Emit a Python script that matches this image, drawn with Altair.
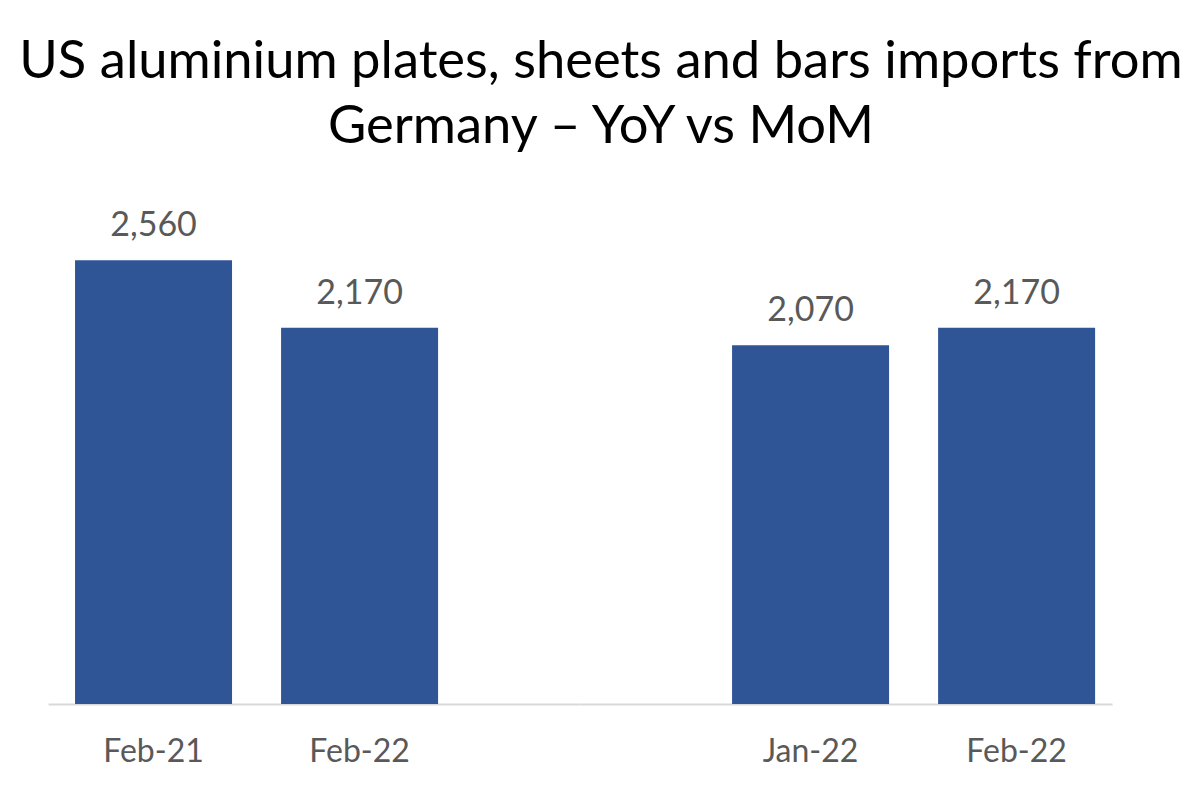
import altair as alt
import pandas as pd

yoy_periods = ["Feb-21", "Feb-22"]
yoy_values = [2560, 2170]
mom_periods = ["Jan-22", "Feb-22"]
mom_values = [2070, 2170]

title_lines = ["US aluminium plates, sheets and bars imports from", "Germany \u2013 YoY vs MoM"]

FONT = "Lato"
BAR_COLOR = "#2F5597"
TEXT_GRAY = "#595959"

yscale = alt.Scale(domain=[0, 3000], nice=False, zero=True)


def panel(periods, values, align):
    df = pd.DataFrame({"period": periods, "value": values})
    xenc = alt.X(
        "period:N",
        sort=periods,
        title=None,
        scale=alt.Scale(paddingInner=0.238, paddingOuter=0.41, align=align),
        axis=alt.Axis(
            labelAngle=0,
            labelFont=FONT,
            labelFontSize=32,
            labelColor=TEXT_GRAY,
            labelPadding=32,
            ticks=False,
            tickSize=0,
            domainColor="#D9D9D9",
            domainWidth=2,
            grid=False,
        ),
    )
    yenc = alt.Y("value:Q", scale=yscale, axis=None)
    bars = alt.Chart(df).mark_bar(color=BAR_COLOR).encode(x=xenc, y=yenc)
    labels = alt.Chart(df).mark_text(
        baseline="bottom", dy=-17, font=FONT, fontSize=34, color=TEXT_GRAY
    ).encode(x=xenc, y=yenc, text=alt.Text("value:Q", format=","))
    return alt.layer(bars, labels).properties(width=532, height=520)


left = panel(yoy_periods, yoy_values, 0.16)
right = panel(mom_periods, mom_values, 0.90)

chart = (
    alt.hconcat(left, right, spacing=0)
    .resolve_scale(x="independent")
    .properties(
        title=alt.TitleParams(
            text=title_lines,
            font=FONT,
            fontSize=52.5,
            fontWeight="normal",
            color="#000000",
            anchor="middle",
            lineHeight=65,
            offset=30,
            dx=21,
        ),
        padding={"left": 11, "top": 27, "right": 6, "bottom": 10},
    )
    .configure_view(stroke=None)
    .configure_concat(spacing=0)
)

chart.save("out.html", embed_options={"renderer": "svg", "actions": False})
